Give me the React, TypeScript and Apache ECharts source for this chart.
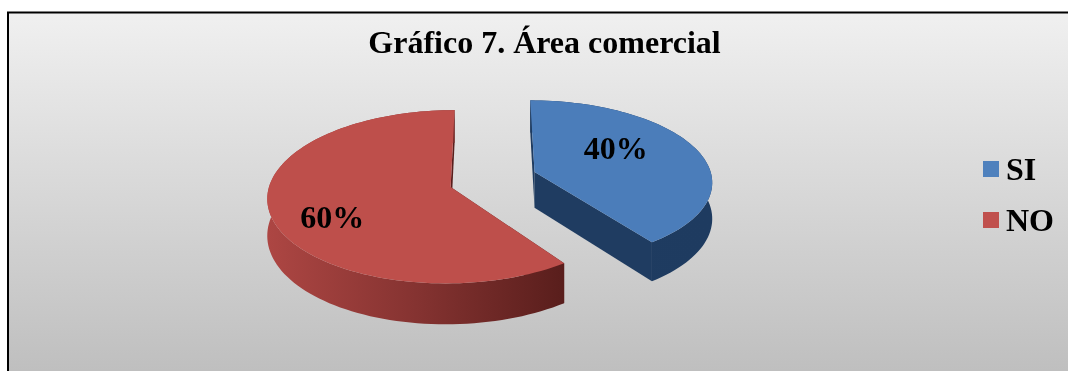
import React, { useEffect, useRef } from "react";
import * as echarts from "echarts";

const categories = ["SI", "NO"];
const shares = [40, 60];
const topColors = ["#4b7dba", "#be4f4b"];
const legendColors = ["#4f81bd", "#c0504d"];

const SERIF = '"Liberation Serif", "Times New Roman", serif';

// Projection of the pie plane: points nearer the viewer are drawn larger.
const VANISH_X = 490;
const VANISH_Y = 180;
const PERSPECTIVE = 0.00132;
const DEPTH = 36;

// Exploded offset of each slice and where its percentage sits inside it.
const sliceLayout = [
  { ox: 45, oy: -8, radiusX: 178, radiusY: 81, labelX: 0.51, labelY: 1.0 },
  { ox: -39, oy: 7, radiusX: 180, radiusY: 84, labelX: 0.65, labelY: 1.1 },
];

type Pt = [number, number];

function project(x: number, v: number, z: number): Pt {
  const s = 1 / (1 - v * PERSPECTIVE);
  return [VANISH_X + x * s, VANISH_Y + (v + z) * s];
}

function rim(i: number, deg: number, z: number): Pt {
  const a = (deg * Math.PI) / 180;
  const l = sliceLayout[i];
  return project(l.ox + Math.sin(a) * l.radiusX, l.oy - Math.cos(a) * l.radiusY, z);
}

function arcPoints(i: number, from: number, to: number, z: number): Pt[] {
  const pts: Pt[] = [];
  const steps = Math.max(8, Math.ceil(Math.abs(to - from) / 2));
  for (let n = 0; n <= steps; n++) pts.push(rim(i, from + ((to - from) * n) / steps, z));
  return pts;
}

function cutFace(i: number, deg: number, fill: string) {
  const l = sliceLayout[i];
  return {
    type: "polygon",
    shape: {
      points: [
        project(l.ox, l.oy, 0),
        project(l.ox, l.oy, DEPTH),
        rim(i, deg, DEPTH),
        rim(i, deg, 0),
      ],
    },
    style: { fill },
  };
}

const wallFills = [
  new echarts.graphic.LinearGradient(0, 0, 1, 0, [
    { offset: 0, color: "#1f3c61" },
    { offset: 1, color: "#1e3b60" },
  ]),
  new echarts.graphic.LinearGradient(0, 0, 1, 0, [
    { offset: 0, color: "#ad4643" },
    { offset: 0.5, color: "#853331" },
    { offset: 1, color: "#591e1c" },
  ]),
];
const cutColors = ["#1f3c61", "#591e1c"];

function sliceRenderer(i: number) {
  return (_params: unknown, api: any) => {
    const total = shares.reduce((a, b) => a + b, 0);
    const value = api.value(0);
    const before = shares.slice(0, i).reduce((a, b) => a + b, 0);
    const start = (before / total) * 360;
    const end = start + (value / total) * 360;
    const mid = (start + end) / 2;
    const l = sliceLayout[i];
    const midRad = (mid * Math.PI) / 180;
    const [lx, ly] = project(
      l.ox + Math.sin(midRad) * l.radiusX * l.labelX,
      l.oy - Math.cos(midRad) * l.radiusY * l.labelY,
      0,
    );
    const top = arcPoints(i, start, end, 0);
    const bottom = arcPoints(i, start, end, DEPTH).reverse();
    return {
      type: "group",
      children: [
        cutFace(i, start, cutColors[i]),
        cutFace(i, end, cutColors[i]),
        {
          type: "polygon",
          shape: { points: [...top, ...bottom] },
          style: { fill: wallFills[i] },
        },
        {
          type: "polygon",
          shape: { points: [project(l.ox, l.oy, 0), ...top] },
          style: { fill: topColors[i] },
        },
        {
          type: "text",
          x: lx,
          y: ly,
          style: {
            text: `${Math.round((value / total) * 100)}%`,
            fill: "#000",
            font: `bold 32px ${SERIF}`,
            textAlign: "center",
            textVerticalAlign: "middle",
          },
        },
      ],
    };
  };
}

export default function App() {
  const ref = useRef<HTMLDivElement>(null);

  useEffect(() => {
    const chart = echarts.init(ref.current!, undefined, { renderer: "svg" });
    chart.setOption({
      animation: false,
      title: {
        text: "Gráfico 7. Área comercial",
        left: 539.5,
        top: 21,
        textAlign: "center",
        textStyle: { fontFamily: SERIF, fontWeight: "bold", fontSize: 32, color: "#000" },
      },
      legend: {
        orient: "vertical",
        left: 978,
        top: 148,
        itemWidth: 16,
        itemHeight: 16,
        itemGap: 19,
        icon: "rect",
        selectedMode: false,
        data: categories.map((name, i) => ({
          name,
          itemStyle: { color: legendColors[i] },
        })),
        textStyle: {
          fontFamily: SERIF,
          fontWeight: "bold",
          fontSize: 32,
          color: "#000",
          padding: [0, 0, 2, 2],
        },
      },
      graphic: [
        {
          type: "rect",
          z: -10,
          shape: { x: 8, y: 12.5, width: 1080, height: 380 },
          style: {
            fill: new echarts.graphic.LinearGradient(0, 0, 0, 1, [
              { offset: 0, color: "#f0f0f0" },
              { offset: 1, color: "#bcbcbc" },
            ]),
            stroke: "#000",
            lineWidth: 2,
          },
        },
      ],
      series: categories.map((name, i) => ({
        type: "custom",
        name,
        coordinateSystem: "none",
        silent: true,
        itemStyle: { color: legendColors[i] },
        data: [[shares[i]]],
        renderItem: sliceRenderer(i),
      })),
    });
    return () => chart.dispose();
  }, []);

  return (
    <div
      ref={ref}
      style={{ position: "fixed", left: 0, top: 0, width: 1068, height: 371 }}
    />
  );
}
